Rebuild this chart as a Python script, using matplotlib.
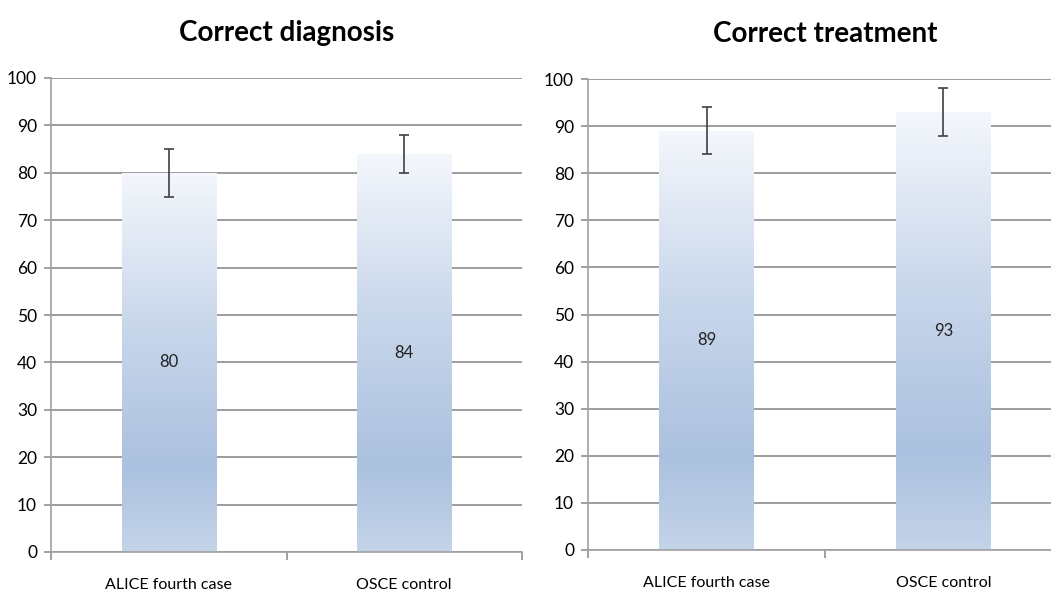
import numpy as np
import matplotlib.pyplot as plt
from matplotlib.colors import LinearSegmentedColormap

categories = ["ALICE fourth case", "OSCE control"]
titles = ["Correct diagnosis", "Correct treatment"]
diag_vals = [80, 84]
diag_err = [5, 4]
treat_vals = [89, 93]
treat_err = [5, 5]
yticks = list(range(0, 101, 10))

plt.rcParams['font.family'] = ['Lato', 'DejaVu Sans']

grad = LinearSegmentedColormap.from_list(
    "bar", [(0.0, "#c4d4e9"), (0.22, "#abc1df"), (0.6, "#c9d7eb"), (1.0, "#f4f7fc")])

fig = plt.figure(figsize=(10.51, 5.94), dpi=100)
ax1 = fig.add_axes([51 / 1051, 1 - 552 / 594, 471 / 1051, 474 / 594])
ax2 = fig.add_axes([588 / 1051, 1 - 550 / 594, 474 / 1051, 471 / 594])

for ax, title, vals, errs in [(ax1, titles[0], diag_vals, diag_err),
                              (ax2, titles[1], treat_vals, treat_err)]:
    x = np.arange(len(categories))
    bars = ax.bar(x, vals, width=0.4, facecolor="none", edgecolor="none", zorder=2)
    g = np.linspace(0, 1, 256).reshape(-1, 1)
    for b in bars:
        x0, w, h = b.get_x(), b.get_width(), b.get_height()
        im = ax.imshow(g, extent=[x0, x0 + w, 0, h], origin="lower", aspect="auto",
                       cmap=grad, zorder=2, interpolation="bilinear")
        im.set_clip_path(b)
        ax.text(x0 + w / 2, h / 2, str(int(h)), ha="center", va="center",
                fontsize=12, color="#222222", zorder=4)
    ax.errorbar(x, vals, yerr=errs, fmt="none", ecolor="#404040", elinewidth=1.2,
                capsize=3.5, capthick=1.2, zorder=3)

    ax.set_xlim(-0.5, 1.5)
    ax.set_ylim(0, 100)
    ax.set_yticks(yticks)
    ax.set_xticks([-0.5, 0.5, 1.5], minor=False)
    ax.set_xticklabels(["", "", ""])
    ax.set_xticks(x, minor=True)
    ax.set_xticklabels(categories, minor=True)
    ax.tick_params(axis="x", which="minor", length=0, pad=19, labelsize=11.5)
    ax.tick_params(axis="x", which="major", length=6, color="#909090", width=1.2)
    ax.tick_params(axis="y", length=5, color="#909090", width=1.2, pad=5, labelsize=12.5)
    ax.yaxis.grid(True, color="#8c8c8c", linewidth=1.2, zorder=0)
    ax.set_axisbelow(True)
    for s in ["top", "right"]:
        ax.spines[s].set_visible(False)
    for s in ["left", "bottom"]:
        ax.spines[s].set_color("#a0a0a0")
        ax.spines[s].set_linewidth(1.2)
    ax.set_title(title, fontsize=20, fontweight="bold", pad=27)

fig.savefig("out.png")
